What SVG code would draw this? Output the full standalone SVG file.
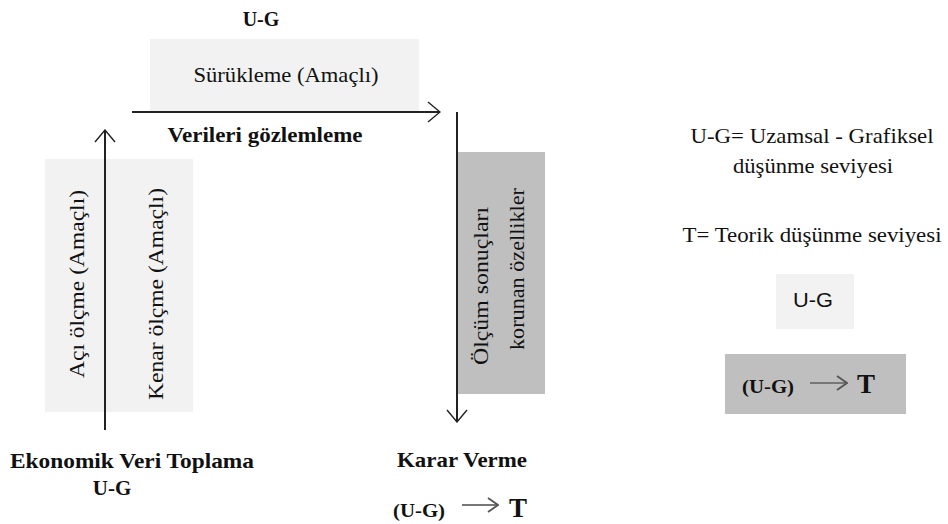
<svg xmlns="http://www.w3.org/2000/svg" width="948" height="524" viewBox="0 0 948 524">
<defs>
<marker id="chev" markerWidth="14" markerHeight="22" refX="13" refY="11" orient="auto" markerUnits="userSpaceOnUse">
<path d="M1,1 L13,11 L1,21" fill="none" stroke="#222" stroke-width="1.4"/>
</marker>
<marker id="chevs" markerWidth="12" markerHeight="16" refX="11" refY="8" orient="auto" markerUnits="userSpaceOnUse">
<path d="M1,1 L11,8 L1,15" fill="none" stroke="#555" stroke-width="1.8"/>
</marker>
</defs>
<style>
.s{font-family:"Liberation Serif",serif;fill:#111;}
.b{font-family:"Liberation Serif",serif;font-weight:bold;fill:#111;}
.sans{font-family:"Liberation Sans",sans-serif;fill:#111;}
.light{fill:#f2f2f2;}
.dark{fill:#bfbfbf;}
.conn{stroke:#222;stroke-width:2;fill:none;}
.small{stroke:#777;stroke-width:2.2;fill:none;}
</style>
<rect width="948" height="524" fill="#fff"/>
<g id="node-drag">
<text class="b" x="261" y="26" font-size="20" text-anchor="middle">U-G</text>
<rect class="light" x="150" y="39" width="269" height="73"/>
<text class="s" x="286" y="82" font-size="22" text-anchor="middle" textLength="185" lengthAdjust="spacingAndGlyphs">Sürükleme (Amaçlı)</text>
<text class="b" x="265" y="142" font-size="22" text-anchor="middle" textLength="195" lengthAdjust="spacingAndGlyphs">Verileri gözlemleme</text>
</g>
<g id="node-measure">
<rect class="light" x="45" y="159" width="148" height="253"/>
<text class="s" font-size="22" text-anchor="middle" textLength="188" lengthAdjust="spacingAndGlyphs" transform="translate(84,284) rotate(-90)">Açı  ölçme (Amaçlı)</text>
<text class="s" font-size="22" text-anchor="middle" textLength="212" lengthAdjust="spacingAndGlyphs" transform="translate(163,294) rotate(-90)">Kenar ölçme (Amaçlı)</text>
</g>
<g id="node-collect">
<text class="b" x="132" y="468" font-size="22" text-anchor="middle" textLength="244" lengthAdjust="spacingAndGlyphs">Ekonomik Veri Toplama</text>
<text class="b" x="112" y="495" font-size="21" text-anchor="middle">U-G</text>
</g>
<g id="node-results">
<rect class="dark" x="458" y="152" width="87" height="242"/>
<text class="s" font-size="21" text-anchor="middle" textLength="158" lengthAdjust="spacingAndGlyphs" transform="translate(488,286) rotate(-90)">Ölçüm  sonuçları</text>
<text class="s" font-size="21" text-anchor="middle" textLength="162" lengthAdjust="spacingAndGlyphs" transform="translate(524,269) rotate(-90)">korunan özellikler</text>
</g>
<g id="node-decision">
<text class="b" x="462" y="467" font-size="22" text-anchor="middle" textLength="130" lengthAdjust="spacingAndGlyphs">Karar Verme</text>
<text class="b" x="419" y="517" font-size="19" text-anchor="middle" textLength="52" lengthAdjust="spacingAndGlyphs">(U-G)</text>
<line class="small" x1="462" y1="505" x2="498" y2="505" marker-end="url(#chevs)"/>
<text class="b" x="518" y="517" font-size="27" text-anchor="middle">T</text>
</g>
<g id="legend">
<text class="s" x="812" y="143" font-size="21" text-anchor="middle" textLength="243" lengthAdjust="spacingAndGlyphs">U-G=  Uzamsal - Grafiksel</text>
<text class="s" x="813" y="173" font-size="21" text-anchor="middle" textLength="160" lengthAdjust="spacingAndGlyphs">düşünme seviyesi</text>
<text class="s" x="812" y="242" font-size="21" text-anchor="middle" textLength="259" lengthAdjust="spacingAndGlyphs">T= Teorik  düşünme seviyesi</text>
<rect class="light" x="776" y="274" width="78" height="55"/>
<text class="sans" x="813" y="307" font-size="20" text-anchor="middle" textLength="40" lengthAdjust="spacingAndGlyphs">U-G</text>
<rect class="dark" x="725" y="354" width="181" height="60"/>
<text class="b" x="768" y="393" font-size="19" text-anchor="middle" textLength="52" lengthAdjust="spacingAndGlyphs">(U-G)</text>
<line class="small" x1="810" y1="383" x2="847" y2="383" marker-end="url(#chevs)"/>
<text class="b" x="866" y="393" font-size="27" text-anchor="middle">T</text>
</g>
<g id="connectors">
<line class="conn" x1="105" y1="430" x2="105" y2="130" marker-end="url(#chev)"/>
<line class="conn" x1="132" y1="112" x2="440" y2="112" marker-end="url(#chev)"/>
<line class="conn" x1="457" y1="112" x2="457" y2="422" marker-end="url(#chev)"/>
</g>
</svg>
